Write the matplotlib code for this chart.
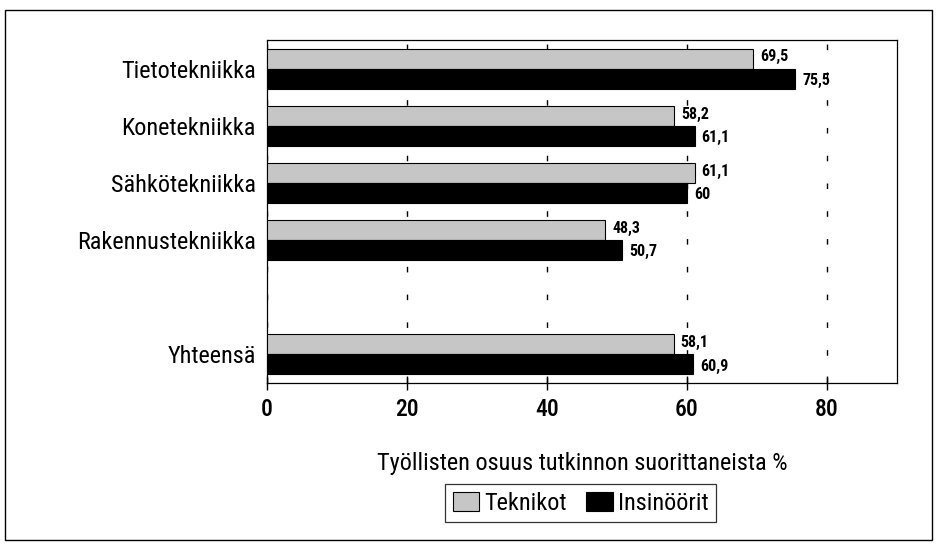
import matplotlib
matplotlib.use("Agg")
import matplotlib.pyplot as plt
from matplotlib.patches import Rectangle

plt.rcParams["font.family"] = ["Roboto Condensed", "DejaVu Sans"]

categories = ["Tietotekniikka", "Konetekniikka", "Sähkötekniikka", "Rakennustekniikka", "Yhteensä"]
positions = [0, 1, 2, 3, 5]
teknikot = [69.5, 58.2, 61.1, 48.3, 58.1]
insinoorit = [75.5, 61.1, 60.0, 50.7, 60.9]
series_names = ["Teknikot", "Insinöörit"]
xticks = [0, 20, 40, 60, 80]


def fmt(v):
    s = ("%.1f" % v).rstrip("0").rstrip(".")
    return s.replace(".", ",")


fig = plt.figure(figsize=(9.38, 5.47), dpi=100)
ax = fig.add_axes([0.2846, 0.2998, 0.6716, 0.627])

h = 0.35
y1 = [p - h / 2 for p in positions]
y2 = [p + h / 2 for p in positions]
b1 = ax.barh(y1, teknikot, height=h, color="#c6c6c6", edgecolor="black",
             linewidth=0.8, label=series_names[0], zorder=3)
b2 = ax.barh(y2, insinoorit, height=h, color="black", edgecolor="black",
             linewidth=0.8, label=series_names[1], zorder=3)

for y, v in zip(y1, teknikot):
    ax.text(v + 1, y - 0.03, fmt(v), va="center", ha="left", fontsize=11.5, fontweight="bold")
for y, v in zip(y2, insinoorit):
    ax.text(v + 1, y + 0.03, fmt(v), va="center", ha="left", fontsize=11.5, fontweight="bold")

ax.set_xlim(0, 90)
ax.set_ylim(5.5, -0.5)
ax.set_yticks(positions)
ax.set_yticklabels(categories, fontsize=17.5)
ax.tick_params(axis="y", length=0, pad=8)
ax.set_xticks(xticks)
ax.set_xticklabels([str(t) for t in xticks], fontsize=17, fontweight=500)
ax.tick_params(axis="x", direction="inout", length=10, width=1, pad=6)
ax.xaxis.grid(True, color="black", linestyle=(0, (4, 16)), linewidth=1.0, zorder=0)
for sp in ax.spines.values():
    sp.set_linewidth(0.9)

ax.set_xlabel("Työllisten osuus tutkinnon suorittaneista %", fontsize=17.5, labelpad=22)

leg = fig.legend(handles=[b1, b2], loc="center", bbox_to_anchor=(0.619, 0.080), ncol=2,
                 prop={"size": 17.5}, frameon=True, fancybox=False,
                 edgecolor="black", handlelength=1.1, handleheight=0.8, handletextpad=0.2,
                 columnspacing=0.8, borderpad=0.3, borderaxespad=0)
leg.get_frame().set_linewidth(0.9)

fig.patches.append(Rectangle((0.005, 0.012), 0.989, 0.97, transform=fig.transFigure,
                             fill=False, edgecolor="black", linewidth=1.0))

fig.savefig("out.png", dpi=100)
